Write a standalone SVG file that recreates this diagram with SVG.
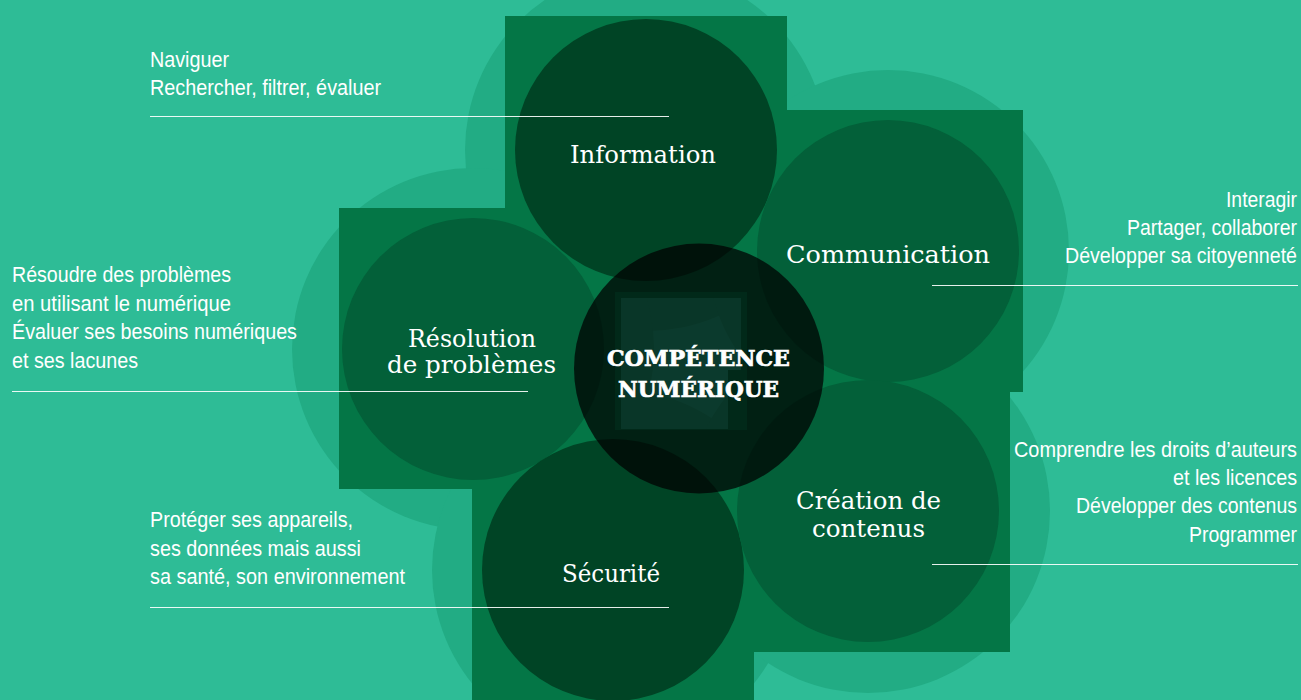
<svg xmlns="http://www.w3.org/2000/svg" width="1301" height="700" viewBox="0 0 1301 700">
  <style>
    .halo { fill: #22AC84; }
    .sq { fill: #047646; }
    .c-mid { fill: #036039; }
    .c-dark { fill: #004425; }
    .label { font-family: "DejaVu Serif", "Liberation Serif", serif; font-size: 24px; fill: #ffffff; }
    .title { font-family: "DejaVu Serif", "Liberation Serif", serif; font-size: 22px; font-weight: bold; fill: #ffffff; stroke: #ffffff; stroke-width: 0.7; }
    .desc { font-family: "Liberation Sans", Arial, sans-serif; font-size: 22px; fill: #ffffff; }
    .lead { stroke: #ffffff; stroke-width: 1; stroke-opacity: 0.9; fill: none; }
  </style>

  <rect x="0" y="0" width="1301" height="700" fill="#2EBC96"/>

  <g id="halos">
    <circle id="halo-information" class="halo" cx="646" cy="150" r="181"/>
    <circle id="halo-communication" class="halo" cx="888" cy="251" r="181"/>
    <circle id="halo-resolution" class="halo" cx="473" cy="349" r="181"/>
    <circle id="halo-securite" class="halo" cx="613" cy="570" r="181"/>
    <circle id="halo-creation" class="halo" cx="868" cy="511" r="182"/>
  </g>

  <g id="squares">
    <rect id="sq-information" class="sq" x="505" y="16" width="282" height="282"/>
    <rect id="sq-communication" class="sq" x="741" y="110" width="282" height="282"/>
    <rect id="sq-resolution" class="sq" x="339" y="208" width="282" height="281"/>
    <rect id="sq-securite" class="sq" x="472" y="429" width="282" height="282"/>
    <rect id="sq-creation" class="sq" x="728" y="370" width="282" height="282"/>
  </g>

  <g id="node-information">
    <circle class="c-dark" cx="646" cy="150" r="131"/>
    <text class="label" x="570" y="163" textLength="146" lengthAdjust="spacingAndGlyphs">Information</text>
    <text class="desc" transform="translate(150 67) scale(0.89 1)" x="0" y="0" textLength="88.8" lengthAdjust="spacingAndGlyphs">Naviguer</text>
    <text class="desc" transform="translate(150 95) scale(0.89 1)" x="0" y="0" textLength="259.6" lengthAdjust="spacingAndGlyphs">Rechercher, filtrer, évaluer</text>
  </g>

  <g id="node-communication">
    <circle class="c-mid" cx="888" cy="251" r="131"/>
    <text class="label" x="786" y="263" textLength="204" lengthAdjust="spacingAndGlyphs">Communication</text>
    <text class="desc" transform="translate(1297 207) scale(0.89 1)" x="-79.8" y="0" textLength="79.8" lengthAdjust="spacingAndGlyphs">Interagir</text>
    <text class="desc" transform="translate(1297 235) scale(0.89 1)" x="-191" y="0" textLength="191" lengthAdjust="spacingAndGlyphs">Partager, collaborer</text>
    <text class="desc" transform="translate(1297 263) scale(0.89 1)" x="-260.7" y="0" textLength="260.7" lengthAdjust="spacingAndGlyphs">Développer sa citoyenneté</text>
  </g>

  <g id="node-resolution">
    <circle class="c-mid" cx="473" cy="349" r="131"/>
    <text class="label" x="408" y="347" textLength="128" lengthAdjust="spacingAndGlyphs">Résolution</text>
    <text class="label" x="387" y="373" textLength="169" lengthAdjust="spacingAndGlyphs">de problèmes</text>
    <text class="desc" transform="translate(12 282) scale(0.89 1)" x="0" y="0" textLength="246.1" lengthAdjust="spacingAndGlyphs">Résoudre des problèmes</text>
    <text class="desc" transform="translate(12 311) scale(0.89 1)" x="0" y="0" textLength="246.1" lengthAdjust="spacingAndGlyphs">en utilisant le numérique</text>
    <text class="desc" transform="translate(12 339) scale(0.89 1)" x="0" y="0" textLength="320.2" lengthAdjust="spacingAndGlyphs">Évaluer ses besoins numériques</text>
    <text class="desc" transform="translate(12 368) scale(0.89 1)" x="0" y="0" textLength="141.6" lengthAdjust="spacingAndGlyphs">et ses lacunes</text>
  </g>

  <g id="node-securite">
    <circle class="c-dark" cx="613" cy="570" r="131"/>
    <text class="label" x="562" y="582" textLength="98" lengthAdjust="spacingAndGlyphs">Sécurité</text>
    <text class="desc" transform="translate(150 527) scale(0.89 1)" x="0" y="0" textLength="228.1" lengthAdjust="spacingAndGlyphs">Protéger ses appareils,</text>
    <text class="desc" transform="translate(150 556) scale(0.89 1)" x="0" y="0" textLength="237.1" lengthAdjust="spacingAndGlyphs">ses données mais aussi</text>
    <text class="desc" transform="translate(150 584) scale(0.89 1)" x="0" y="0" textLength="286.5" lengthAdjust="spacingAndGlyphs">sa santé, son environnement</text>
  </g>

  <g id="node-creation">
    <circle class="c-mid" cx="868" cy="511" r="131"/>
    <text class="label" x="796" y="509" textLength="145" lengthAdjust="spacingAndGlyphs">Création de</text>
    <text class="label" x="812" y="537" textLength="113" lengthAdjust="spacingAndGlyphs">contenus</text>
    <text class="desc" transform="translate(1297 457) scale(0.89 1)" x="-318" y="0" textLength="318" lengthAdjust="spacingAndGlyphs">Comprendre les droits d’auteurs</text>
    <text class="desc" transform="translate(1297 485) scale(0.89 1)" x="-139.3" y="0" textLength="139.3" lengthAdjust="spacingAndGlyphs">et les licences</text>
    <text class="desc" transform="translate(1297 513) scale(0.89 1)" x="-248.3" y="0" textLength="248.3" lengthAdjust="spacingAndGlyphs">Développer des contenus</text>
    <text class="desc" transform="translate(1297 542) scale(0.89 1)" x="-121.3" y="0" textLength="121.3" lengthAdjust="spacingAndGlyphs">Programmer</text>
  </g>

  <g id="node-center">
    <circle cx="699" cy="368.5" r="125" fill="#000000" fill-opacity="0.73"/>
    <rect x="615" y="292" width="132" height="138" fill="#0A8A55" fill-opacity="0.09"/>
    <text class="title" x="607" y="366" textLength="183" lengthAdjust="spacingAndGlyphs">COMPÉTENCE</text>
    <text class="title" x="618" y="397" textLength="161" lengthAdjust="spacingAndGlyphs">NUMÉRIQUE</text>
  </g>

  <g id="connectors">
    <line class="lead" x1="150" y1="116.5" x2="669" y2="116.5"/>
    <line class="lead" x1="12" y1="391.5" x2="528" y2="391.5"/>
    <line class="lead" x1="932" y1="285.5" x2="1298" y2="285.5"/>
    <line class="lead" x1="932" y1="564.5" x2="1298" y2="564.5"/>
    <line class="lead" x1="150" y1="607.5" x2="669" y2="607.5"/>
  </g>
</svg>
